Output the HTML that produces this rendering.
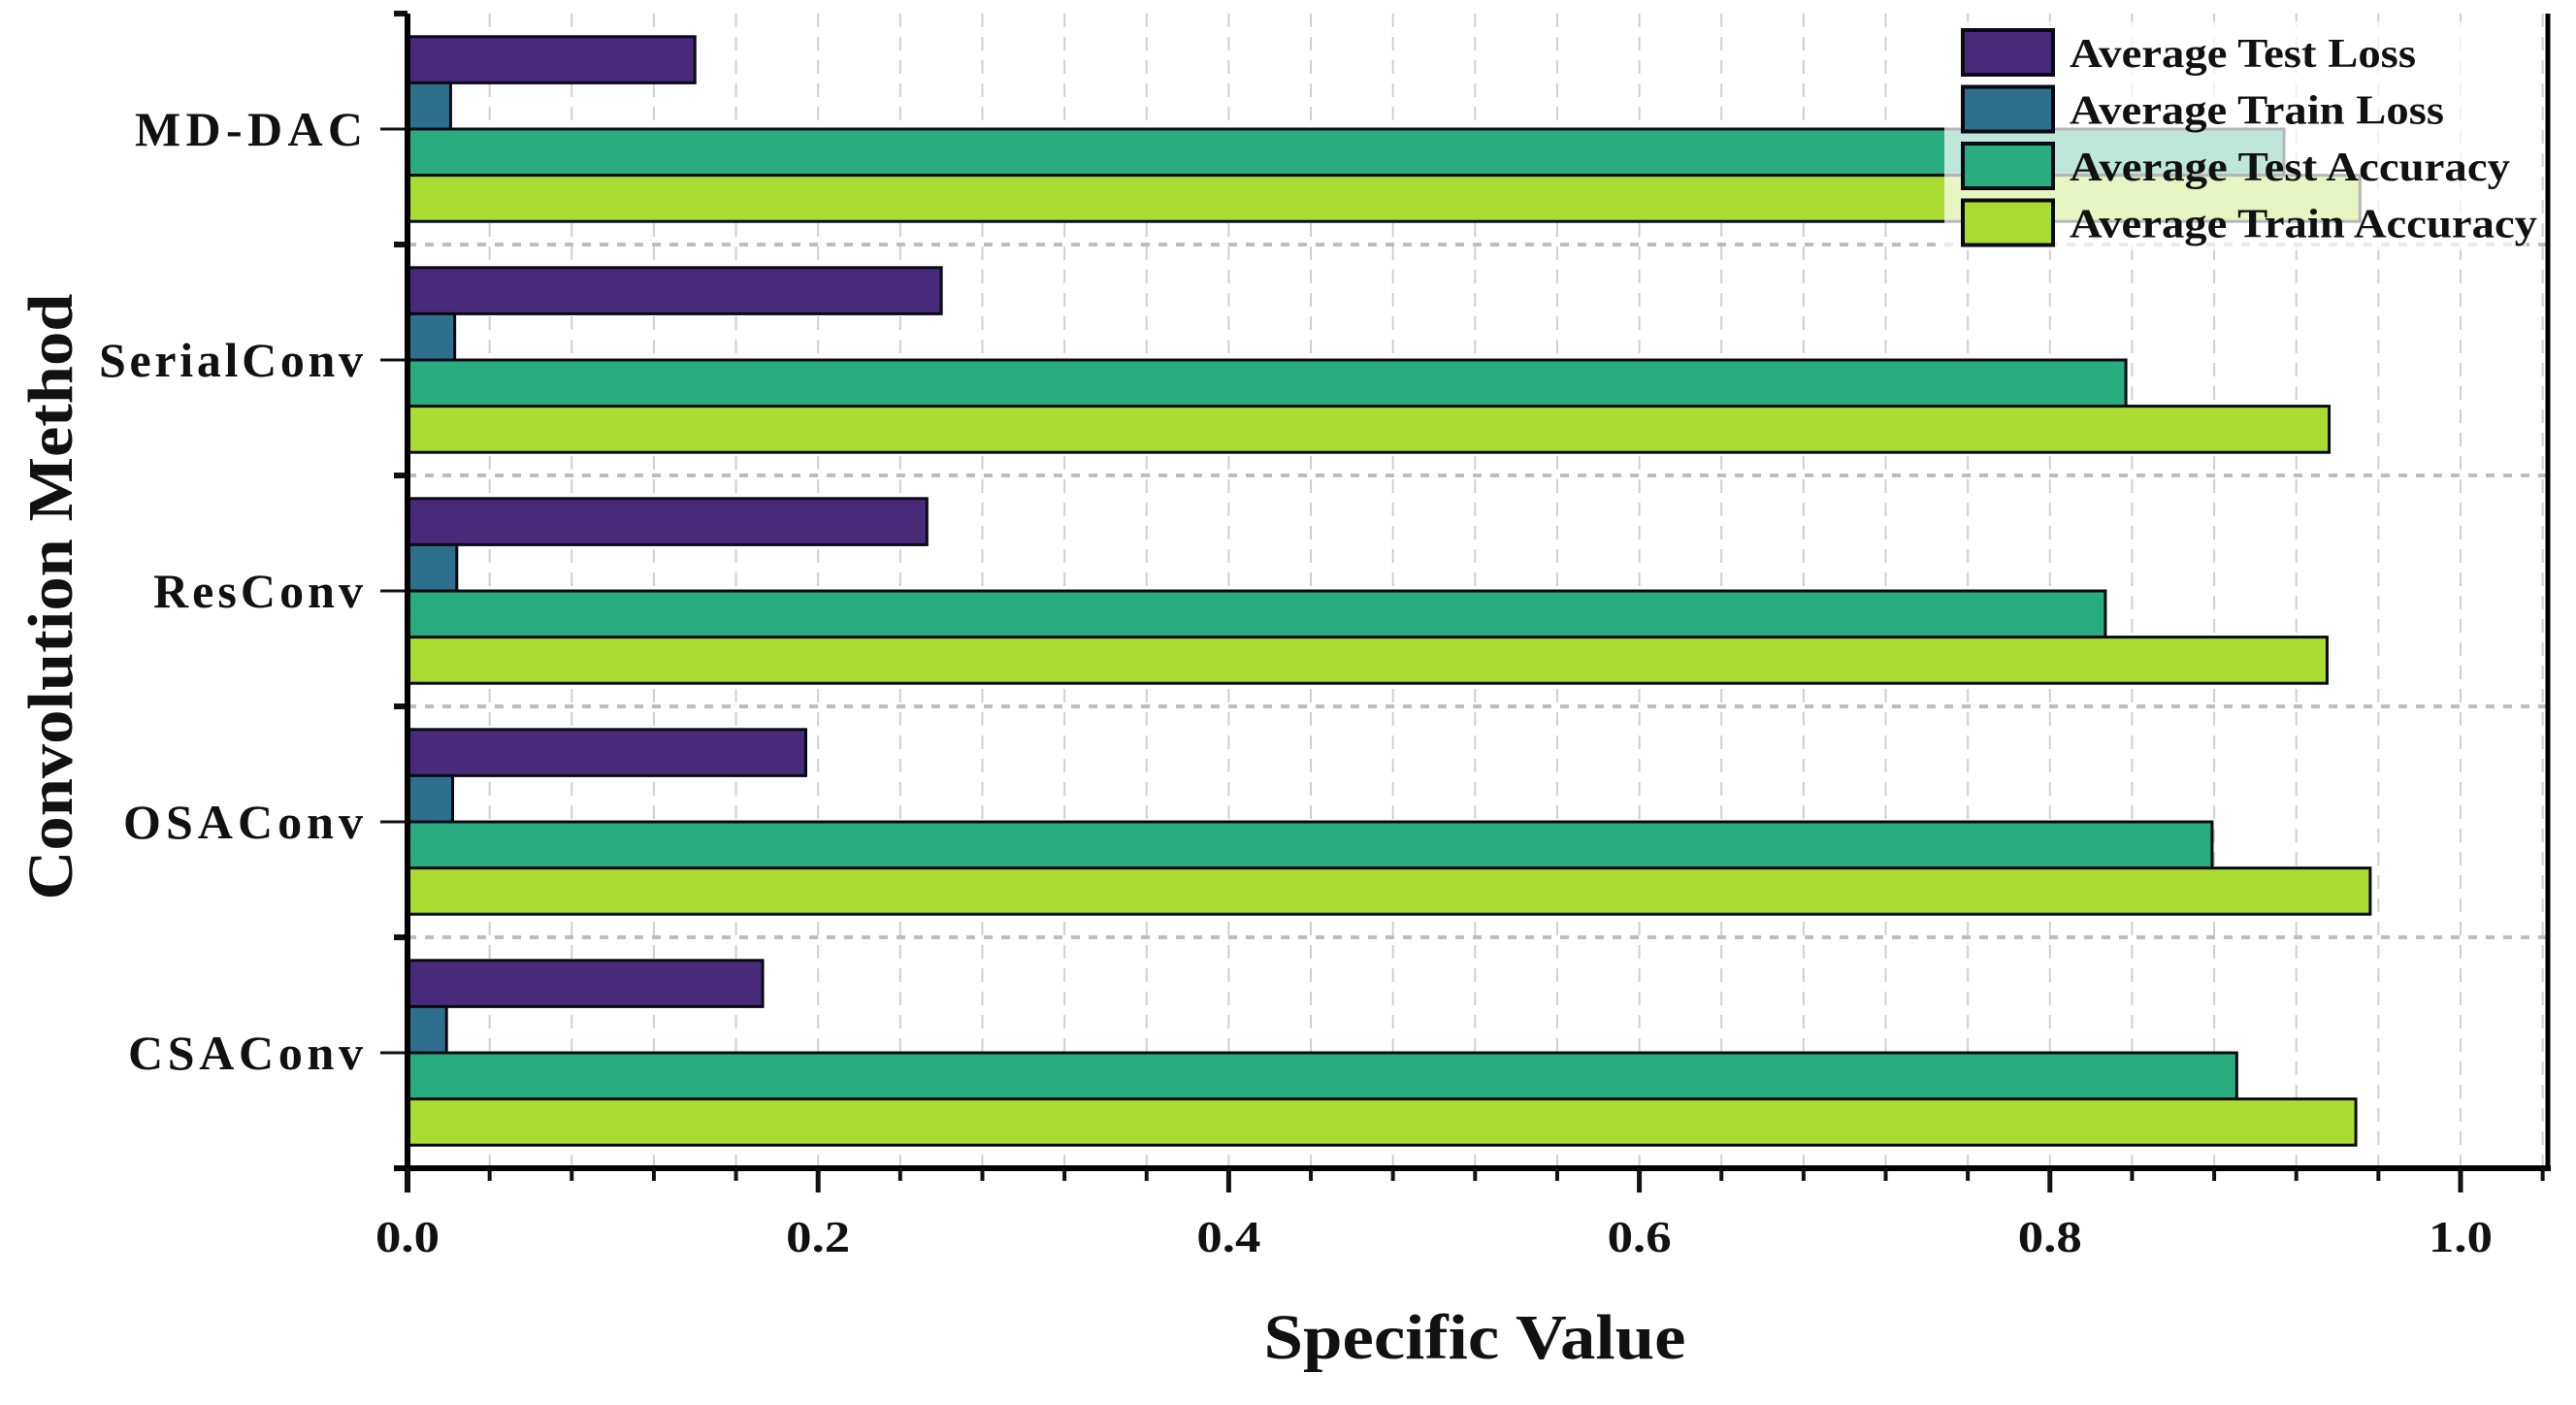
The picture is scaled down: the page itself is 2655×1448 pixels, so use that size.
<!DOCTYPE html>
<html><head><meta charset="utf-8"><style>
html,body{margin:0;padding:0;background:#fff;}
svg{display:block;}
text{font-family:"Liberation Serif",serif;font-weight:bold;fill:#111;}
</style></head><body>
<svg id="chart" width="2655" height="1448" viewBox="0 0 2655 1448">
<g id="grid"></g><g id="bars"></g><g id="axes"></g><g id="legend"></g>
</svg>
<script>
const categories = ["MD-DAC","SerialConv","ResConv","OSAConv","CSAConv"];
const seriesNames = ["Average Test Loss","Average Train Loss","Average Test Accuracy","Average Train Accuracy"];
const testLoss = [0.14,0.26,0.253,0.194,0.173];
const trainLoss = [0.021,0.023,0.024,0.022,0.019];
const testAcc = [0.914,0.837,0.827,0.879,0.891];
const trainAcc = [0.951,0.936,0.935,0.956,0.949];
const xTicks = ["0.0","0.2","0.4","0.6","0.8","1.0"];
const colors = ["#472a7a","#2f6f8e","#29ad80","#abdc31"];
const series = [testLoss,trainLoss,testAcc,trainAcc];

const NS="http://www.w3.org/2000/svg";
const L=420,R=2626,T=14,B=1204,band=(B-T)/categories.length;
const x=v=>L+v*2116;
const yBand=i=>T+i*band;
const labelW=[235,272,216,247,242];
function mk(tag,attrs,parent){const e=document.createElementNS(NS,tag);for(const k in attrs)e.setAttribute(k,attrs[k]);document.getElementById(parent).appendChild(e);return e;}

for(let k=1;k*0.04<=1.05;k++){
  const g=mk('line',{x1:x(k*0.04),x2:x(k*0.04),y1:T,y2:B,stroke:'#cfcfcf','stroke-width':2,'stroke-dasharray':'14 10'},'grid');
  
  
}
for(let i=1;i<categories.length;i++){
  const g=mk('line',{x1:L,x2:R,y1:yBand(i),y2:yBand(i),stroke:'#bdbdbd','stroke-width':4,'stroke-dasharray':'9 9'},'grid');
  
  
}
const bh=band*0.8/4;
categories.forEach((c,i)=>{
  series.forEach((s,j)=>{
    const y0=yBand(i)+band*0.1+j*bh;
    const r=mk('rect',{x:L,y:y0,width:x(s[i])-L,height:bh,fill:colors[j],stroke:'#0a0a14','stroke-width':3},'bars');
    
    
  });
  const t=mk('text',{x:374,y:yBand(i)+band/2+17,'text-anchor':'end','font-size':50,textLength:labelW[i],lengthAdjust:'spacing'},'axes');
  t.textContent=c;
  
  
  mk('line',{x1:392,x2:L,y1:yBand(i)+band/2,y2:yBand(i)+band/2,stroke:'#111','stroke-width':3},'axes');
});
for(let i=0;i<=categories.length;i++){mk('line',{x1:406,x2:L,y1:yBand(i),y2:yBand(i),stroke:'#111','stroke-width':6},'axes');}
let a=mk('line',{x1:L,x2:L,y1:T,y2:B+25,stroke:'#000','stroke-width':6},'axes');

a=mk('line',{x1:406,x2:R+3,y1:B,y2:B,stroke:'#000','stroke-width':6},'axes');

mk('line',{x1:R,x2:R,y1:T,y2:B,stroke:'#000','stroke-width':5},'axes');
for(let k=0;k*0.04<=1.05;k++){
  const v=k*0.04;const major=k%5===0;
  mk('line',{x1:x(v),x2:x(v),y1:B,y2:B+(major?25:13),stroke:'#111','stroke-width':major?5:4},'axes');
}
xTicks.forEach(s=>{
  const t=mk('text',{x:x(parseFloat(s)),y:1290,'text-anchor':'middle','font-size':46,textLength:66,lengthAdjust:'spacingAndGlyphs'},'axes');
  t.textContent=s;
  
  
});
let t=mk('text',{x:1520,y:1400,'text-anchor':'middle','font-size':66,textLength:435,lengthAdjust:'spacingAndGlyphs'},'axes');
t.textContent='Specific Value';
t=mk('text',{x:0,y:0,'text-anchor':'middle','font-size':66,textLength:625,lengthAdjust:'spacingAndGlyphs',transform:'translate(74,615) rotate(-90)'},'axes');
t.textContent='Convolution Method';
const lg=mk('rect',{x:2004,y:22,width:600,height:236,fill:'#ffffff','fill-opacity':0.7},'legend');

const lw=[357,386,454,482];
seriesNames.forEach((n,j)=>{
  const yy=31+j*58.5;
  const r=mk('rect',{x:2023,y:yy,width:93,height:46,fill:colors[j],stroke:'#0a0a14','stroke-width':4},'legend');
  
  const tt=mk('text',{x:2133,y:yy+38,'font-size':42,textLength:lw[j],lengthAdjust:'spacingAndGlyphs'},'legend');
  tt.textContent=n;
});
</script>
</body></html>
